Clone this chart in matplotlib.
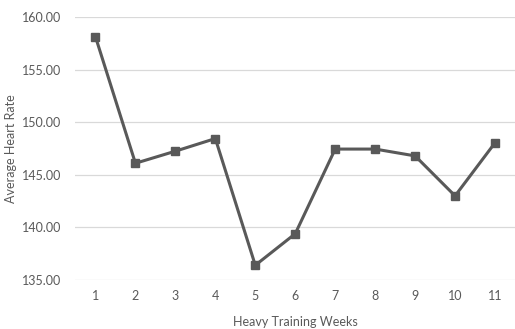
import matplotlib.pyplot as plt

weeks = [1, 2, 3, 4, 5, 6, 7, 8, 9, 10, 11]
heart_rate = [158.13, 146.1, 147.25, 148.45, 136.4, 139.4, 147.45, 147.45, 146.8, 143.0, 148.05]
y_ticks = [135, 140, 145, 150, 155, 160]

plt.rcParams['font.family'] = ['Lato', 'DejaVu Sans']
text_color = '#595959'

fig = plt.figure(figsize=(5.15, 3.29), dpi=100)
ax = fig.add_axes([0.1466, 0.149, 0.8534, 0.799])

ax.plot(weeks, heart_rate, color='#595959', linewidth=2.2,
        marker='s', markersize=6, zorder=3)

ax.set_xlim(0.5, 11.5)
ax.set_ylim(135, 160)
ax.set_xticks(weeks)
ax.set_yticks(y_ticks)
ax.set_yticklabels([f'{v:.2f}' for v in y_ticks])

ax.grid(axis='y', color='#d9d9d9', linewidth=0.9)
ax.set_axisbelow(True)
for s in ax.spines.values():
    s.set_visible(False)
ax.tick_params(length=0, labelsize=9, labelcolor=text_color, pad=7)
ax.tick_params(axis='y', pad=10)

ax.set_xlabel('Heavy Training Weeks', fontsize=9, color=text_color, labelpad=10)
ax.set_ylabel('Average Heart Rate', fontsize=9, color=text_color, labelpad=4)

fig.savefig('out.png', dpi=100)
